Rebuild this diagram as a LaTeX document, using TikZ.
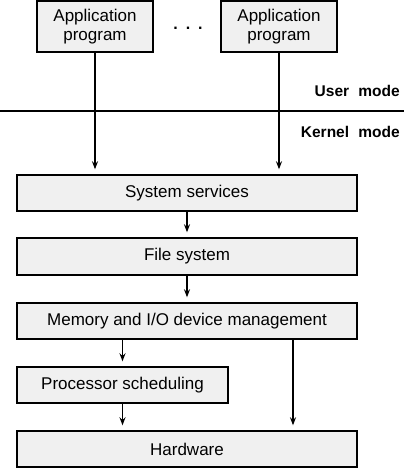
\documentclass[tikz,border=0pt]{standalone}
\usepackage{fontspec}
\setmainfont{Liberation Sans}
\usetikzlibrary{arrows.meta,positioning}

\begin{document}
\begin{tikzpicture}[
  x=1pt, y=-1pt,
  box/.style={draw, line width=1.4pt, fill=gray!12, inner sep=0pt, align=center, font=\fontsize{17}{19}\selectfont},
  modelabel/.style={anchor=east, inner sep=0pt, font=\bfseries\fontsize{15.5}{18}\selectfont},
  flow/.style={-{Stealth[length=8pt,width=6pt]}, line width=1.3pt, shorten >=5pt}
]
  \useasboundingbox (0,0) rectangle (404,471);

  % user programs
  \node[box, minimum width=116pt, minimum height=51pt] (app1) at (95,26.5) {Application\\program};
  \node[box, minimum width=116pt, minimum height=51pt] (app2) at (279,26.5) {Application\\program};
  \node[inner sep=0pt, font=\bfseries\fontsize{16}{19}\selectfont] (dots) at (188,28) {.\hspace{8pt}.\hspace{8pt}.};

  % mode boundary
  \coordinate (edgeL) at (0,111);
  \coordinate (edgeR) at (404,111);
  \draw[line width=2.2pt] (edgeL) -- (edgeR);
  \node[modelabel] (user) at (400,91) {User\hspace{0.6em}mode};
  \node[modelabel] (kernel) at (400,132) {Kernel\hspace{0.6em}mode};

  % kernel layers
  \node[box, minimum width=340pt, minimum height=36pt] (sys) at (187,193) {System services};
  \node[box, minimum width=340pt, minimum height=37pt] (fs) at (187,256.5) {File system};
  \node[box, minimum width=340pt, minimum height=36pt] (mem) at (187,321) {Memory and I/O device management};
  \node[box, minimum width=211pt, minimum height=36pt] (proc) at (122.5,385) {Processor scheduling};
  \node[box, minimum width=340pt, minimum height=36pt] (hw) at (187,449) {Hardware};
  \coordinate (hwin) at (293,0);

  \draw[flow] (app1.south) -- (app1.south |- sys.north);
  \draw[flow] (app2.south) -- (app2.south |- sys.north);
  \draw[flow] (sys.south) -- (fs.north);
  \draw[flow] (fs.south) -- (mem.north);
  \draw[flow] (mem.south -| proc.north) -- (proc.north);
  \draw[flow] (proc.south) -- (proc.south |- hw.north);
  \draw[flow] (mem.south -| hwin) -- (hw.north -| hwin);
\end{tikzpicture}
\end{document}
